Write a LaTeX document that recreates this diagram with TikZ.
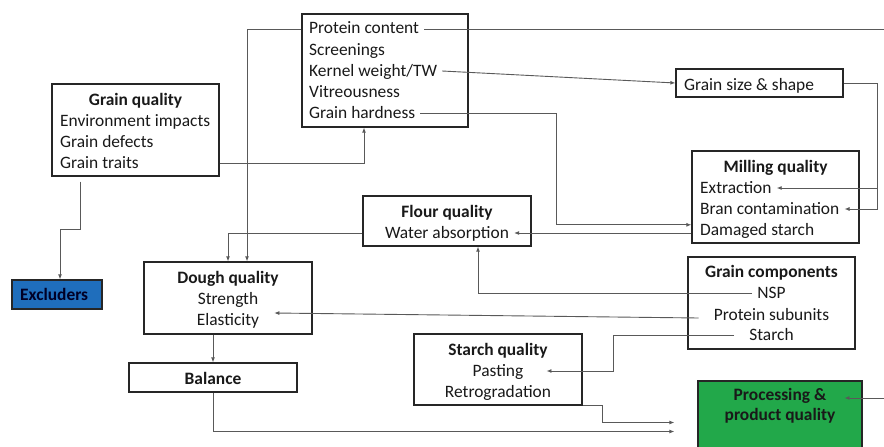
\documentclass[tikz,border=0pt]{standalone}
\usepackage{fontspec}
\setmainfont{Carlito}
\usetikzlibrary{arrows.meta}

\definecolor{exblue}{RGB}{31,110,188}
\definecolor{procgreen}{RGB}{34,168,74}
\newcommand{\itemfont}{\fontsize{17.4}{21}\selectfont}

\begin{document}
\begin{tikzpicture}[x=1pt, y=-1pt,
    box/.style={draw=black!85, line width=1.3pt, inner sep=0pt},
    item/.style={inner xsep=5pt, inner ysep=0pt, text height=10pt, text depth=0pt, font=\itemfont, text=black!90},
    head/.style={item, font=\itemfont\bfseries},
    link/.style={draw=black!65, line width=0.9pt, -{Latex[length=5pt,width=4pt]}}]

    % Page
    \useasboundingbox (0,0) rectangle (884,447);
    \fill[white] (0,0) rectangle (884,447);
    \clip (0,0) rectangle (884,447);

    % Boxes
    \node[box, minimum width=167pt, minimum height=92pt] (gq) at (135.5,130) {};
    \node[box, minimum width=166pt, minimum height=113pt] (prot) at (385,70.5) {};
    \node[box, minimum width=167pt, minimum height=28pt] (gss) at (759.5,83) {};
    \node[box, minimum width=167pt, minimum height=92pt] (mill) at (775.5,197) {};
    \node[box, minimum width=168pt, minimum height=50pt] (flour) at (447,221) {};
    \node[box, minimum width=167pt, minimum height=92pt] (gc) at (771.5,303) {};
    \node[box, minimum width=168pt, minimum height=72pt] (dough) at (228,298) {};
    \node[box, fill=exblue, minimum width=90pt, minimum height=29pt] (excl) at (57,294.5) {};
    \node[box, minimum width=168pt, minimum height=29pt] (bal) at (213,377.5) {};
    \node[box, minimum width=168pt, minimum height=71pt] (sq) at (498,369.5) {};
    \node[box, fill=procgreen, minimum width=164pt, minimum height=79pt] (proc) at (780,420.5) {};

    % Grain quality
    \node[head, anchor=base] (gqt) at (135.5,105) {Grain quality};
    \node[item, anchor=base west] (ei) at (55,126) {Environment impacts};
    \node[item, anchor=base west] (gd) at (55,147) {Grain defects};
    \node[item, anchor=base west] (gt) at (55,168) {Grain traits};

    % Grain traits
    \node[item, anchor=base west] (pc) at (304,34) {Protein content};
    \node[item, anchor=base west] (sc) at (304,55) {Screenings};
    \node[item, anchor=base west] (kw) at (304,76) {Kernel weight/TW};
    \node[item, anchor=base west] (vi) at (304,97) {Vitreousness};
    \node[item, anchor=base west] (gh) at (304,118) {Grain hardness};
    \node[item, anchor=base west] (gsst) at (679,90) {Grain size \& shape};

    % Milling and flour
    \node[head, anchor=base] (millt) at (775.5,172) {Milling quality};
    \node[item, anchor=base west] (ex) at (695,193) {Extraction};
    \node[item, anchor=base west] (bc) at (695,214) {Bran contamination};
    \node[item, anchor=base west] (ds) at (695,235) {Damaged starch};
    \node[head, anchor=base] (flourt) at (447,217) {Flour quality};
    \node[item, anchor=base] (wa) at (447,238) {Water absorption};

    % Grain components
    \node[head, anchor=base] (gct) at (771.5,277) {Grain components};
    \node[item, anchor=base] (nsp) at (771.5,298) {NSP};
    \node[item, anchor=base] (ps) at (771.5,320) {Protein subunits};
    \node[item, anchor=base] (st) at (771.5,340) {Starch};

    % Dough, starch and products
    \node[head, anchor=base] (dought) at (228,283) {Dough quality};
    \node[item, anchor=base] (sg) at (228,304) {Strength};
    \node[item, anchor=base] (el) at (228,325) {Elasticity};
    \node[head, anchor=base west, text=black!85!blue] (exclt) at (15,300) {Excluders};
    \node[head, anchor=base] (balt) at (213,384) {Balance};
    \node[head, anchor=base] (sqt) at (498,355) {Starch quality};
    \node[item, anchor=base] (pa) at (498,376) {Pasting};
    \node[item, anchor=base] (rg) at (498,397) {Retrogradation};
    \node[head, anchor=base] (pr1) at (780,400) {Processing \&};
    \node[head, anchor=base] (pr2) at (780,420) {product quality};

    \coordinate (edge) at (896,200);

    % Links
    \draw[link] (gq.east |- gt.east) -| ([xshift=-21pt]prot.south);
    \draw[link] ([xshift=-55pt, yshift=-5pt]gq.south) -- ++(0,48) -| ([xshift=3pt]excl.north);
    \draw[link] (pc.east) -| (edge) |- ([xshift=13pt, yshift=-3pt]pr1.east);
    \draw[link] (prot.west |- pc.east) -| ([xshift=19pt]dough.north);
    \draw[link] (kw.east) -- (gss.west);
    \draw[link] (gh.east) -- ++(136,0) |- (mill.west |- ds.north);
    \draw[link] (gss.east) -- ++(34,0) |- (bc.east);
    \draw[link] ([xshift=34pt]gss.east) |- (ex.east);
    \draw[link] (mill.west |- wa.east) -- (wa.east);
    \draw[link] (flour.west |- wa.east) -| (dough.north);
    \draw[link] (nsp.west) -| ([xshift=31pt]flour.south);
    \draw[link] ([xshift=-10pt, yshift=-3pt]ps.west) -- ([xshift=10pt, yshift=7pt]el.east);
    \draw[link] ([xshift=-10pt]st.west) -- ++(-121,0) |- ([xshift=18pt]pa.east);
    \draw[link] (dough.south -| bal.north) -- (bal.north);
    \draw[link, shorten >=23pt] (sq.south east) -- ++(20,0) |- ([yshift=-2pt]proc.west);
    \draw[link, shorten >=23pt] (bal.south) |- ([yshift=-11pt]proc.west);
\end{tikzpicture}
\end{document}
